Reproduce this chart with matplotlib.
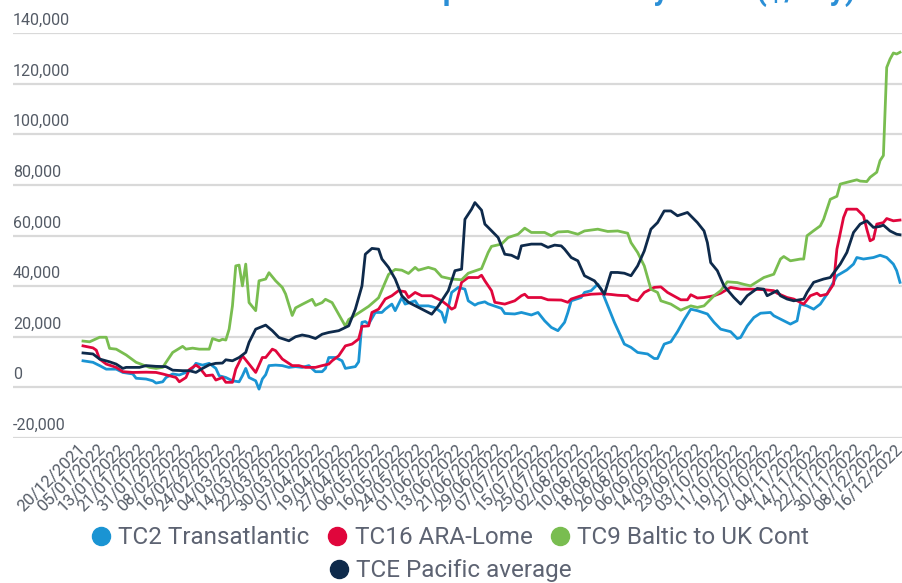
import matplotlib
matplotlib.use("Agg")
import matplotlib.pyplot as plt
import matplotlib.transforms as mtransforms
from matplotlib.lines import Line2D

# x tick labels (one every 6 trading days)
dates = ["20/12/2021", "05/01/2022", "13/01/2022", "21/01/2022", "31/01/2022", "08/02/2022",
         "16/02/2022", "24/02/2022", "04/03/2022", "14/03/2022", "22/03/2022", "30/03/2022",
         "07/04/2022", "19/04/2022", "27/04/2022", "06/05/2022", "16/05/2022", "24/05/2022",
         "01/06/2022", "13/06/2022", "21/06/2022", "29/06/2022", "07/07/2022", "15/07/2022",
         "25/07/2022", "02/08/2022", "10/08/2022", "18/08/2022", "26/08/2022", "06/09/2022",
         "14/09/2022", "23/09/2022", "03/10/2022", "11/10/2022", "19/10/2022", "27/10/2022",
         "04/11/2022", "14/11/2022", "22/11/2022", "30/11/2022", "08/12/2022", "16/12/2022"]
tick_step = 6

# TC2 Transatlantic
blue_idx = [0, 3, 5, 7, 10, 12, 15, 16, 19, 21, 22, 24, 25, 27, 29, 31, 33, 34, 36, 38,
            40, 41, 43, 45, 47, 48, 49, 50, 52, 53, 54, 55, 56, 58, 60, 62, 64, 66, 68, 70,
            72, 73, 74, 76, 78, 79, 82, 83, 84, 85, 86, 88, 90, 91, 93, 94, 96, 97, 100, 101,
            104, 106, 108, 109, 111, 113, 115, 116, 118, 119, 121, 122, 126, 127, 130, 132, 135, 137, 139, 141,
            143, 145, 146, 147, 150, 151, 153, 155, 156, 158, 160, 163, 165, 167, 170, 172, 173, 175, 177, 179,
            181, 183, 185, 188, 190, 192, 195, 197, 198, 200, 202, 204, 207, 208, 211, 213, 215, 216, 218, 220,
            222, 224, 227, 230, 232, 233, 235, 238, 240, 242, 244, 245, 246]
blue_val = [10500, 9900, 8600, 7200, 7200, 5900, 5300, 3600, 3300, 2600,
            1700, 2200, 3900, 5300, 4900, 5900, 7500, 9500, 8800, 9500,
            7500, 4600, 3900, 2600, 2200, 4600, 7500, 3900, 2600, -700,
            3300, 5000, 8600, 8800, 8600, 7900, 8200, 7900, 8600, 6200,
            6200, 7500, 11800, 11800, 10500, 7500, 8200, 10100, 25700, 26000,
            25000, 29600, 29600, 30900, 32900, 30300, 35500, 32900, 34200, 32200,
            32200, 31500, 29600, 25700, 37500, 39500, 38800, 34200, 32500, 33200,
            33800, 33000, 31200, 29200, 29000, 29600, 28600, 29600, 26300, 23700,
            22400, 25700, 29600, 34200, 35500, 37500, 38200, 40800, 38800, 32200,
            25700, 17100, 15800, 13800, 13200, 11400, 11400, 17100, 18000, 22000,
            26700, 30900, 30300, 29000, 25700, 23000, 22000, 19300, 19700, 24300,
            27600, 29300, 29600, 28300, 26300, 25000, 26300, 32900, 32200, 30900,
            32900, 36800, 44100, 46400, 48700, 51300, 50700, 51300, 52200, 51300,
            48700, 46100, 41500]

# TC16 ARA-Lome
red_idx = [0, 3, 4, 5, 7, 10, 12, 15, 19, 22, 24, 26, 28, 29, 31, 32, 34, 35, 37, 39,
           40, 42, 43, 45, 46, 48, 50, 52, 54, 55, 57, 58, 60, 63, 65, 67, 70, 72, 74, 75,
           77, 79, 81, 83, 84, 86, 87, 89, 91, 93, 95, 97, 98, 100, 102, 105, 106, 108, 110, 111,
           112, 114, 116, 119, 120, 121, 123, 124, 127, 130, 132, 133, 134, 138, 140, 144, 146, 147, 150, 153,
           156, 159, 161, 164, 165, 167, 169, 172, 174, 176, 180, 182, 183, 185, 187, 190, 192, 195, 198, 201,
           205, 208, 209, 212, 214, 217, 219, 221, 222, 224, 226, 227, 229, 230, 233, 235, 236, 237, 238, 239,
           241, 242, 244, 246]
red_val = [16400, 15600, 14700, 11200, 9200, 7900, 6200, 5900, 6000, 5900,
           5300, 4600, 3900, 2200, 3900, 7000, 8800, 7900, 4600, 4900,
           2900, 3900, 2000, 2000, 7200, 12500, 9200, 5900, 11800, 11800,
           15100, 14500, 11200, 8600, 8600, 7900, 7900, 8600, 9200, 10500,
           12500, 16400, 17100, 19100, 24100, 24300, 29600, 30900, 34900, 36200,
           38200, 37800, 35500, 37500, 36200, 36200, 35500, 34200, 32200, 30900,
           31600, 41500, 43400, 43400, 44300, 42100, 38200, 33600, 32900, 34200,
           36200, 36800, 35500, 35500, 34600, 34500, 33600, 34900, 36200, 36800,
           37000, 36700, 36400, 36200, 34900, 34200, 37500, 39500, 39700, 37500,
           34600, 34600, 36600, 35300, 35500, 36200, 37200, 39500, 38800, 38800,
           38600, 38200, 37200, 35500, 34900, 32900, 36200, 37200, 36200, 36800,
           40800, 54600, 67100, 70400, 70400, 67800, 62500, 57900, 58600, 64500,
           65100, 66700, 65800, 66100]

# TC9 Baltic to UK Cont
green_idx = [0, 2, 5, 7, 8, 10, 13, 16, 20, 22, 24, 25, 27, 30, 31, 33, 35, 38, 39, 41,
             42, 43, 44, 45, 46, 47, 48, 49, 50, 52, 53, 55, 56, 58, 60, 61, 63, 64, 66, 69,
             70, 72, 73, 75, 79, 80, 83, 86, 89, 92, 94, 96, 98, 100, 101, 104, 106, 108, 111, 114,
             116, 120, 122, 123, 126, 128, 131, 133, 135, 139, 141, 143, 146, 149, 151, 155, 158, 161, 164, 165,
             167, 169, 171, 173, 174, 177, 180, 183, 185, 187, 190, 192, 194, 197, 199, 201, 205, 208, 210, 211,
             213, 216, 217, 218, 220, 222, 223, 225, 227, 228, 230, 233, 234, 236, 237, 239, 240, 241, 242, 243,
             244, 245, 246]
green_val = [18300, 18000, 19800, 19800, 15400, 15100, 12800, 9900, 7900, 7500,
             7900, 9900, 13800, 16200, 15100, 15500, 15100, 15100, 19300, 18400,
             19000, 18700, 23000, 32200, 48000, 48300, 40100, 48700, 33500, 30300,
             42100, 42800, 45300, 42100, 39500, 36900, 28400, 31400, 32800, 34800,
             32400, 33500, 34800, 33500, 24200, 26800, 29400, 32000, 35400, 44600,
             46600, 46300, 45000, 47400, 46300, 47400, 46600, 43700, 42800, 42500,
             45100, 46900, 53300, 55700, 56600, 59200, 60500, 62900, 61200, 61200,
             59900, 61400, 61600, 60500, 61800, 62500, 61600, 61800, 60900, 57200,
             53300, 48000, 38800, 37500, 34200, 32900, 30500, 32200, 31600, 32200,
             36200, 38200, 41700, 41400, 40700, 40100, 43400, 44700, 50700, 51700,
             50000, 50700, 50700, 59900, 61900, 63800, 66400, 74300, 75500, 80300,
             81000, 82000, 81500, 81300, 83000, 85000, 89600, 91600, 126400, 129700,
             132100, 131700, 132400]

# TCE Pacific average
navy_idx = [0, 3, 5, 8, 10, 12, 13, 17, 19, 22, 25, 27, 30, 32, 34, 36, 38, 40, 42, 43,
            45, 47, 49, 50, 52, 55, 57, 59, 62, 64, 66, 68, 70, 72, 74, 77, 80, 82, 84, 85,
            87, 89, 90, 92, 94, 96, 98, 101, 105, 107, 110, 112, 114, 115, 117, 118, 120, 121, 122, 125,
            127, 129, 131, 132, 135, 138, 140, 142, 144, 145, 147, 149, 151, 154, 156, 157, 159, 161, 163, 165,
            167, 169, 171, 173, 175, 177, 179, 182, 185, 187, 188, 189, 191, 193, 196, 198, 200, 203, 205, 206,
            209, 210, 212, 214, 217, 218, 220, 223, 225, 228, 230, 232, 234, 236, 238, 240, 241, 243, 245, 246]
navy_val = [13600, 13200, 11200, 10100, 9200, 7500, 7900, 7900, 8600, 8300,
            8200, 6800, 6600, 6600, 5900, 7500, 8900, 9500, 9600, 10900,
            10500, 11800, 13800, 17800, 23000, 24600, 22400, 19700, 18400, 20000,
            20700, 20200, 19300, 21000, 21700, 22400, 24300, 30900, 40100, 52600,
            54900, 54600, 50700, 47400, 42800, 36200, 33600, 31600, 28900, 32200,
            38200, 46100, 46700, 66400, 70400, 73000, 70000, 64500, 63200, 59200,
            52600, 52200, 50900, 55900, 56600, 56600, 55300, 56200, 55900, 54600,
            51300, 50000, 44100, 42100, 38800, 36800, 45400, 45400, 45100, 44100,
            48000, 53900, 62500, 65100, 69700, 69700, 67800, 69100, 65100, 61800,
            57200, 49300, 46100, 40100, 35500, 32900, 36200, 39100, 38800, 36200,
            38200, 36200, 34900, 34200, 34900, 37500, 41500, 42800, 43400, 48700,
            53300, 61200, 64500, 65800, 63200, 63600, 64100, 61800, 60500, 60300]

series = [
    ("TC2 Transatlantic", blue_idx, blue_val, "#1a94d3"),
    ("TC16 ARA-Lome", red_idx, red_val, "#e0063c"),
    ("TC9 Baltic to UK Cont", green_idx, green_val, "#79bd50"),
    ("TCE Pacific average", navy_idx, navy_val, "#0e2a4b"),
]
yticks = [-20000, 0, 20000, 40000, 60000, 80000, 100000, 120000, 140000]

plt.rcParams['font.family'] = ['Roboto', 'DejaVu Sans']
W, H = 902, 583
fig = plt.figure(figsize=(W / 100, H / 100), dpi=100)
ax = fig.add_axes([13 / W, (H - 438) / H, (W - 13) / W, (438 - 33) / H])

for name, idx, val, col in series:
    ax.plot(idx, val, color=col, linewidth=2.0, solid_joinstyle='round')

n_last = (len(dates) - 1) * tick_step
ppx = (900 - 83) / n_last
ax.set_xlim(-70 / ppx, n_last + 2 / ppx)
ax.set_ylim(-20000, 140000)

ax.set_yticks(yticks)
ax.set_yticklabels([])
ax.grid(axis='y', color='#d9d9d9', linewidth=1.6)
ax.set_axisbelow(True)
for s in ax.spines.values():
    s.set_visible(False)
ax.tick_params(axis='both', length=0)

lab_tr = mtransforms.offset_copy(ax.get_yaxis_transform(), fig=fig, x=0, y=5, units='dots')
for v in yticks:
    ax.text(0, v, f"{v:,}", transform=lab_tr, ha='left', va='bottom',
            fontsize=11.5, color='#545b66')

ax.set_xticks(range(0, n_last + 1, tick_step))
ax.set_xticklabels(dates, rotation=45, ha='right', va='center', rotation_mode='anchor',
                   fontsize=12, color='#545b66')
ax.tick_params(axis='x', pad=6)

handles = [Line2D([], [], marker='o', linestyle='', markersize=13, color=c) for _, _, _, c in series]
names = [s[0] for s in series]
fig.legend(handles[:3], names[:3], loc='center', bbox_to_anchor=(0.5, (H - 538) / H),
           ncol=3, frameon=False, fontsize=17.5, handlelength=0.7, handletextpad=0.35,
           columnspacing=0.8, labelcolor='#5d6372')
fig.legend(handles[3:], names[3:], loc='center', bbox_to_anchor=(0.5, (H - 571) / H),
           ncol=1, frameon=False, fontsize=17.5, handlelength=0.7, handletextpad=0.35,
           labelcolor='#5d6372')

fig.text(856 / W, 1.0, "MR tanker spot TCE rates by route ($/day)", ha='right', va='baseline',
         fontsize=22, fontweight='bold', color='#2b8fd6')

fig.savefig("out.png", dpi=100)
